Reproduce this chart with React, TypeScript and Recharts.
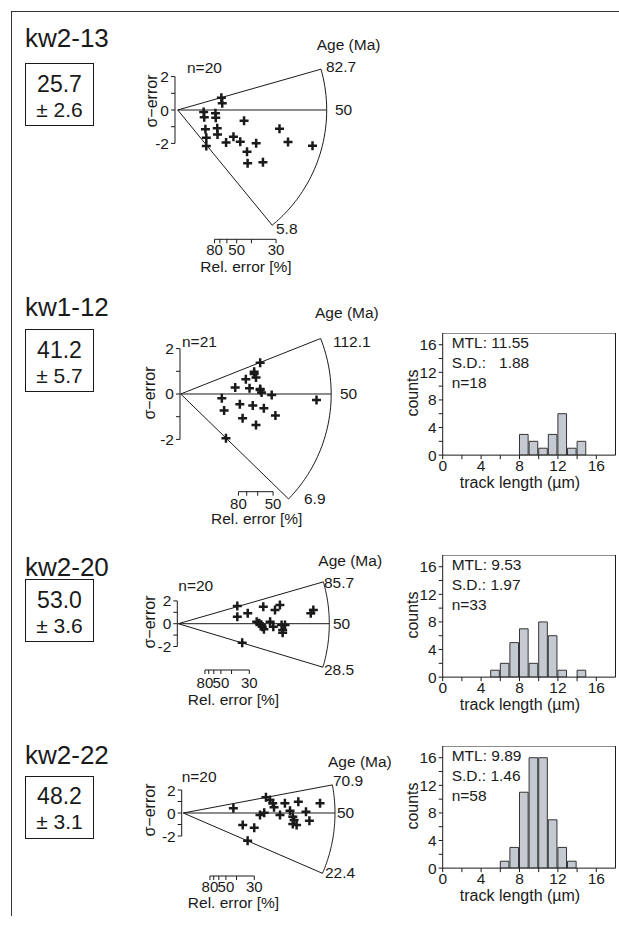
import React from "react";
import { ScatterChart, Scatter, BarChart, Bar, XAxis, YAxis, ReferenceLine } from "recharts";

// sample summary (central age ± 1σ, Ma)
const sampleNames = ["kw2-13", "kw1-12", "kw2-20", "kw2-22"];
const centralAges = ["25.7", "41.2", "53.0", "48.2"];
const centralErrors = ["2.6", "5.7", "3.6", "3.1"];
const grainCounts = [20, 21, 20, 20];
const refAge = 50;
const maxAges = [82.7, 112.1, 85.7, 70.9];
const minAges = [5.8, 6.9, 28.5, 22.4];

// radial plot grains: x = precision (1 / rel. error), y = standardised estimate (σ)
const kw213X = [1.48, 1.51, 0.88, 0.9, 0.94, 0.97, 0.97, 1.28, 1.29, 1.34, 1.35, 2.25, 1.64, 1.89, 2.12, 2.35, 2.37, 2.66, 2.89, 3.45, 3.74, 4.57];
const kw213Y = [0.74, 0.4, -0.12, -0.44, -1.16, -1.66, -2.16, -0.2, -0.46, -1.1, -1.46, -0.64, -1.94, -1.6, -1.9, -2.5, -3.19, -1.99, -3.13, -1.12, -1.92, -2.14];
const kw112X = [1.72, 1.59, 1.59, 1.63, 1.41, 1.18, 1.49, 1.72, 1.72, 1.75, 1.97, 0.89, 0.94, 1.28, 1.56, 1.8, 2.05, 1.34, 1.63, 0.98, 2.94];
const kw112Y = [1.38, 0.98, 0.88, 0.73, 0.65, 0.29, 0.25, 0.22, 0.18, 0.07, -0.04, -0.19, -0.73, -0.45, -0.51, -0.63, -0.95, -1.07, -1.37, -1.95, -0.26];
const kw220X = [2.77, 2.77, 3.26, 3.99, 3.68, 3.8, 3.9, 3.94, 4.02, 4.31, 4.54, 4.77, 4.46, 4.85, 4.9, 5.01, 4.9, 6.22, 6.34, 3.0];
const kw220Y = [1.55, 0.61, 0.91, 1.49, 0.18, 0.03, -0.1, -0.26, -0.49, 0.18, 1.2, 1.64, -0.26, -0.11, -0.55, -0.11, -0.79, 0.91, 1.2, -1.67];
const kw222X = [2.35, 2.79, 3.33, 3.02, 3.6, 3.8, 3.88, 4.07, 4.2, 4.26, 4.54, 4.77, 5.01, 5.4, 5.14, 5.2, 5.14, 5.32, 5.76, 5.92, 6.42];
const kw222Y = [0.41, -1.04, -1.28, -2.41, -0.17, 0.03, 1.36, 1.13, 0.84, 0.49, -0.17, 0.84, 0.2, 0.98, -0.32, -0.61, -0.96, -1.04, 0.11, -0.67, 0.84];
const radialX = [kw213X, kw112X, kw220X, kw222X];
const radialY = [kw213Y, kw112Y, kw220Y, kw222Y];

const relErrTicksLong = [80, 70, 60, 50, 40, 30];
const relErrTicksShort = [80, 70, 60, 50];
const relErrTicks = [relErrTicksLong, relErrTicksShort, relErrTicksLong, relErrTicksLong];
const relErrLabels = [80, 50, 30];
const sigmaTicks = [-2, -1, 0, 1, 2];

// track length histograms, 1 µm bins starting at binStarts
const binStarts = [0, 1, 2, 3, 4, 5, 6, 7, 8, 9, 10, 11, 12, 13, 14, 15, 16, 17];
const kw112Counts = [0, 0, 0, 0, 0, 0, 0, 0, 3, 2, 1, 3, 6, 1, 2, 0, 0, 0];
const kw220Counts = [0, 0, 0, 0, 0, 1, 2, 5, 7, 2, 8, 6, 1, 0, 1, 0, 0, 0];
const kw222Counts = [0, 0, 0, 0, 0, 0, 1, 3, 11, 16, 16, 7, 3, 1, 0, 0, 0, 0];
const histCounts = [kw112Counts, kw220Counts, kw222Counts];
const mtlValues = ["11.55", "9.53", "9.89"];
const sdValues = ["  1.88", "1.97", "1.46"];
const trackNs = [18, 33, 58];
const lengthTicks = [0, 2, 4, 6, 8, 10, 12, 14, 16];
const countTicks = [0, 2, 4, 6, 8, 10, 12, 14, 16];

// page layout (px)
const radialLayout = [
  { ox: 177.7, oy: 110, kx: 29.5, ky: 16.7, r: 149, axisX: 175, top: 50, bottom: 239.3, tm: 1.5 },
  { ox: 180.7, oy: 394, kx: 46.2, ky: 22.7, r: 150.5, axisX: 180, top: 325, bottom: 491.7, tm: 2.5 },
  { ox: 178.3, oy: 623.7, kx: 21.3, ky: 11.4, r: 151, axisX: 177.3, top: 575, bottom: 670, tm: 3 },
  { ox: 183.3, oy: 813, kx: 21.3, ky: 11.5, r: 151.7, axisX: 181.7, top: 765, bottom: 876, tm: 1 },
];
const radialText = [
  { nX: 187, nY: 67.7, aX: 316.7, aY: 45, hiX: 326, hiY: 67, midX: 335, midY: 110, loX: 276, loY: 229, sX: 152, sY: 101, rX: 246, rY: 266.5 },
  { nX: 182, nY: 341.7, aX: 315, aY: 313.3, hiX: 333, hiY: 342, midX: 340, midY: 394, loX: 304, loY: 499, sX: 150, sY: 393, rX: 256.7, rY: 519 },
  { nX: 178.3, nY: 585.7, aX: 318.3, aY: 560.7, hiX: 324, hiY: 583, midX: 333, midY: 623.7, loX: 324, loY: 670, sX: 150, sY: 622, rX: 233.5, rY: 699.5 },
  { nX: 181.7, nY: 776.7, aX: 328, aY: 761.7, hiX: 333, hiY: 781, midX: 337, midY: 813, loX: 325, loY: 872.5, sX: 150, sY: 810, rX: 233.5, rY: 902.5 },
];
const nameY = [37.7, 306.7, 566.7, 754.7];
const boxTop = [63.3, 329.3, 579.3, 776];
const histAxisY = [455, 676.7, 867.7];

const INK = "#1a1a1a";
const FONT = '"Liberation Sans", Arial, Helvetica, sans-serif';

function T({ x, y, size = 15.5, anchor = "start", rotate = false, children }: any) {
  const tx = anchor === "middle" ? "-50%" : anchor === "end" ? "-100%" : "0";
  return (
    <div
      style={{
        position: "absolute",
        left: x,
        top: y,
        fontSize: size,
        lineHeight: 1,
        whiteSpace: "pre",
        color: INK,
        transform: rotate ? "translate(-50%,-50%) rotate(-90deg)" : `translate(${tx},-50%)`,
      }}
    >
      {children}
    </div>
  );
}

const Cross = (props: any) => {
  const { cx, cy } = props;
  if (cx == null || cy == null) return <g />;
  const h = 4.5;
  return <path d={`M${cx - h},${cy}H${cx + h}M${cx},${cy - h}V${cy + h}`} stroke={INK} strokeWidth={2.5} fill="none" />;
};

function RadialPlot({ idx }: { idx: number }) {
  const L = radialLayout[idx];
  const width = 345;
  const xMin = (L.axisX - L.ox) / L.kx;
  const xMax = (width - L.ox) / L.kx;
  const yMax = (L.oy - L.top) / L.ky;
  const yMin = (L.oy - L.bottom) / L.ky;
  const pts = radialX[idx].map((x, i) => ({ x, y: radialY[idx][i] }));
  const sHi = Math.log(maxAges[idx] / refAge);
  const sLo = Math.log(minAges[idx] / refAge);
  // point of the age scale arc for a given slope
  const arcAt = (s: number) => {
    const x = L.r / Math.sqrt(L.kx * L.kx + s * s * L.ky * L.ky);
    return { x, y: s * x };
  };
  const steps = 48;
  const arc = Array.from({ length: steps + 1 }, (_, i) => arcAt(sHi + ((sLo - sHi) * i) / steps));
  const ticks = relErrTicks[idx].map((r) => 100 / r);
  const origin = { x: 0, y: 0 };
  return (
    <div style={{ position: "absolute", left: 0, top: L.top }}>
      <ScatterChart width={width} height={L.bottom - L.top + 30} margin={{ top: 0, right: 0, bottom: 0, left: 0 }}>
        <XAxis
          type="number"
          dataKey="x"
          domain={[xMin, xMax]}
          allowDataOverflow
          ticks={ticks}
          interval={0}
          tickFormatter={(v: number) => {
            const r = Math.round(100 / v);
            return relErrLabels.includes(r) ? String(r) : "";
          }}
          axisLine={false}
          tickSize={4}
          tickMargin={L.tm}
          stroke={INK}
          tick={{ fill: INK, fontSize: 15 }}
          height={30}
        />
        <YAxis
          type="number"
          dataKey="y"
          domain={[yMin, yMax]}
          allowDataOverflow
          ticks={sigmaTicks}
          interval={0}
          tickFormatter={(v: number) => (v % 2 === 0 ? String(v) : "")}
          axisLine={false}
          tickSize={4}
          tickMargin={2}
          stroke={INK}
          tick={{ fill: INK, fontSize: 15.5 }}
          width={L.axisX}
        />
        <ReferenceLine segment={[{ x: xMin, y: -2 }, { x: xMin, y: 2 }]} stroke={INK} ifOverflow="visible" />
        <ReferenceLine segment={[{ x: ticks[0], y: yMin }, { x: ticks[ticks.length - 1], y: yMin }]} stroke={INK} ifOverflow="visible" />
        <ReferenceLine segment={[origin, arcAt(sHi)]} stroke={INK} ifOverflow="visible" />
        <ReferenceLine segment={[origin, arcAt(0)]} stroke={INK} ifOverflow="visible" />
        <ReferenceLine segment={[origin, arcAt(sLo)]} stroke={INK} ifOverflow="visible" />
        {arc.slice(1).map((p, i) => (
          <ReferenceLine key={i} segment={[arc[i], p]} stroke={INK} ifOverflow="visible" />
        ))}
        <Scatter data={pts} shape={Cross} isAnimationActive={false} />
      </ScatterChart>
    </div>
  );
}

function LengthHist({ idx }: { idx: number }) {
  const axisY = histAxisY[idx];
  const pxPerCount = 6.9;
  const yTop = 17.7;
  const top = axisY - yTop * pxPerCount;
  const data = binStarts.map((b, i) => ({ x: b + 0.5, c: histCounts[idx][i] }));
  return (
    <div style={{ position: "absolute", left: 380, top }}>
      <BarChart width={239} height={axisY - top + 40} data={data} margin={{ top: 0, right: 3.5, bottom: 0, left: 0 }}>
        <XAxis
          type="number"
          dataKey="x"
          domain={[0, 18]}
          allowDataOverflow
          ticks={lengthTicks}
          interval={0}
          tickFormatter={(v: number) => (v % 4 === 0 ? String(v) : "")}
          tickSize={4}
          tickMargin={1}
          stroke={INK}
          tick={{ fill: INK, fontSize: 15.5 }}
          height={40}
        />
        <YAxis
          type="number"
          domain={[0, yTop]}
          allowDataOverflow
          ticks={countTicks}
          interval={0}
          tickFormatter={(v: number) => (v % 4 === 0 ? String(v) : "")}
          tickSize={4}
          tickMargin={2}
          stroke={INK}
          tick={{ fill: INK, fontSize: 15.5 }}
          width={62.7}
        />
        <ReferenceLine y={yTop} stroke={INK} ifOverflow="visible" />
        <ReferenceLine x={18} stroke={INK} ifOverflow="visible" />
        <Bar dataKey="c" fill="#c5c9d1" stroke="#333" strokeWidth={1} barSize={9.6} isAnimationActive={false} />
      </BarChart>
    </div>
  );
}

export default function App() {
  return (
    <div style={{ position: "absolute", left: 0, top: 0, width: 619, height: 927, background: "#fff", fontFamily: FONT, overflow: "hidden" }}>
      <div style={{ position: "absolute", left: 10.5, top: 10.5, width: 609, height: 1.4, background: "#333" }} />
      <div style={{ position: "absolute", left: 10.5, top: 10.5, width: 1.4, height: 905, background: "#333" }} />

      {sampleNames.map((name, i) => (
        <React.Fragment key={name}>
          <T x={25} y={nameY[i]} size={26}>{name}</T>
          <div style={{ position: "absolute", left: 25, top: boxTop[i], width: 68.5, height: 62.5, border: `1.3px solid ${INK}`, boxSizing: "border-box" }} />
          <T x={59.5} y={boxTop[i] + 20.2} size={23} anchor="middle">{centralAges[i]}</T>
          <T x={59.5} y={boxTop[i] + 45.2} size={21} anchor="middle">{"± " + centralErrors[i]}</T>
        </React.Fragment>
      ))}

      {radialLayout.map((_, i) => {
        const t = radialText[i];
        return (
          <React.Fragment key={"r" + i}>
            <RadialPlot idx={i} />
            <T x={t.nX} y={t.nY}>{"n=" + grainCounts[i]}</T>
            <T x={t.aX} y={t.aY}>Age (Ma)</T>
            <T x={t.hiX} y={t.hiY}>{maxAges[i].toFixed(1)}</T>
            <T x={t.midX} y={t.midY}>{String(refAge)}</T>
            <T x={t.loX} y={t.loY}>{minAges[i].toFixed(1)}</T>
            <T x={t.sX} y={t.sY} size={16} rotate>σ−error</T>
            <T x={t.rX} y={t.rY} size={15.5} anchor="middle">Rel. error [%]</T>
          </React.Fragment>
        );
      })}

      {histAxisY.map((ay, i) => (
        <React.Fragment key={"h" + i}>
          <LengthHist idx={i} />
          <T x={451.7} y={ay - 112}>{"MTL: " + mtlValues[i]}</T>
          <T x={451.7} y={ay - 92}>{"S.D.: " + sdValues[i]}</T>
          <T x={451.7} y={ay - 72}>{"n=" + trackNs[i]}</T>
          <T x={413.3} y={ay - 61.7} size={16} rotate>counts</T>
          <T x={520} y={ay + 28} size={16} anchor="middle">track length (µm)</T>
        </React.Fragment>
      ))}
    </div>
  );
}
